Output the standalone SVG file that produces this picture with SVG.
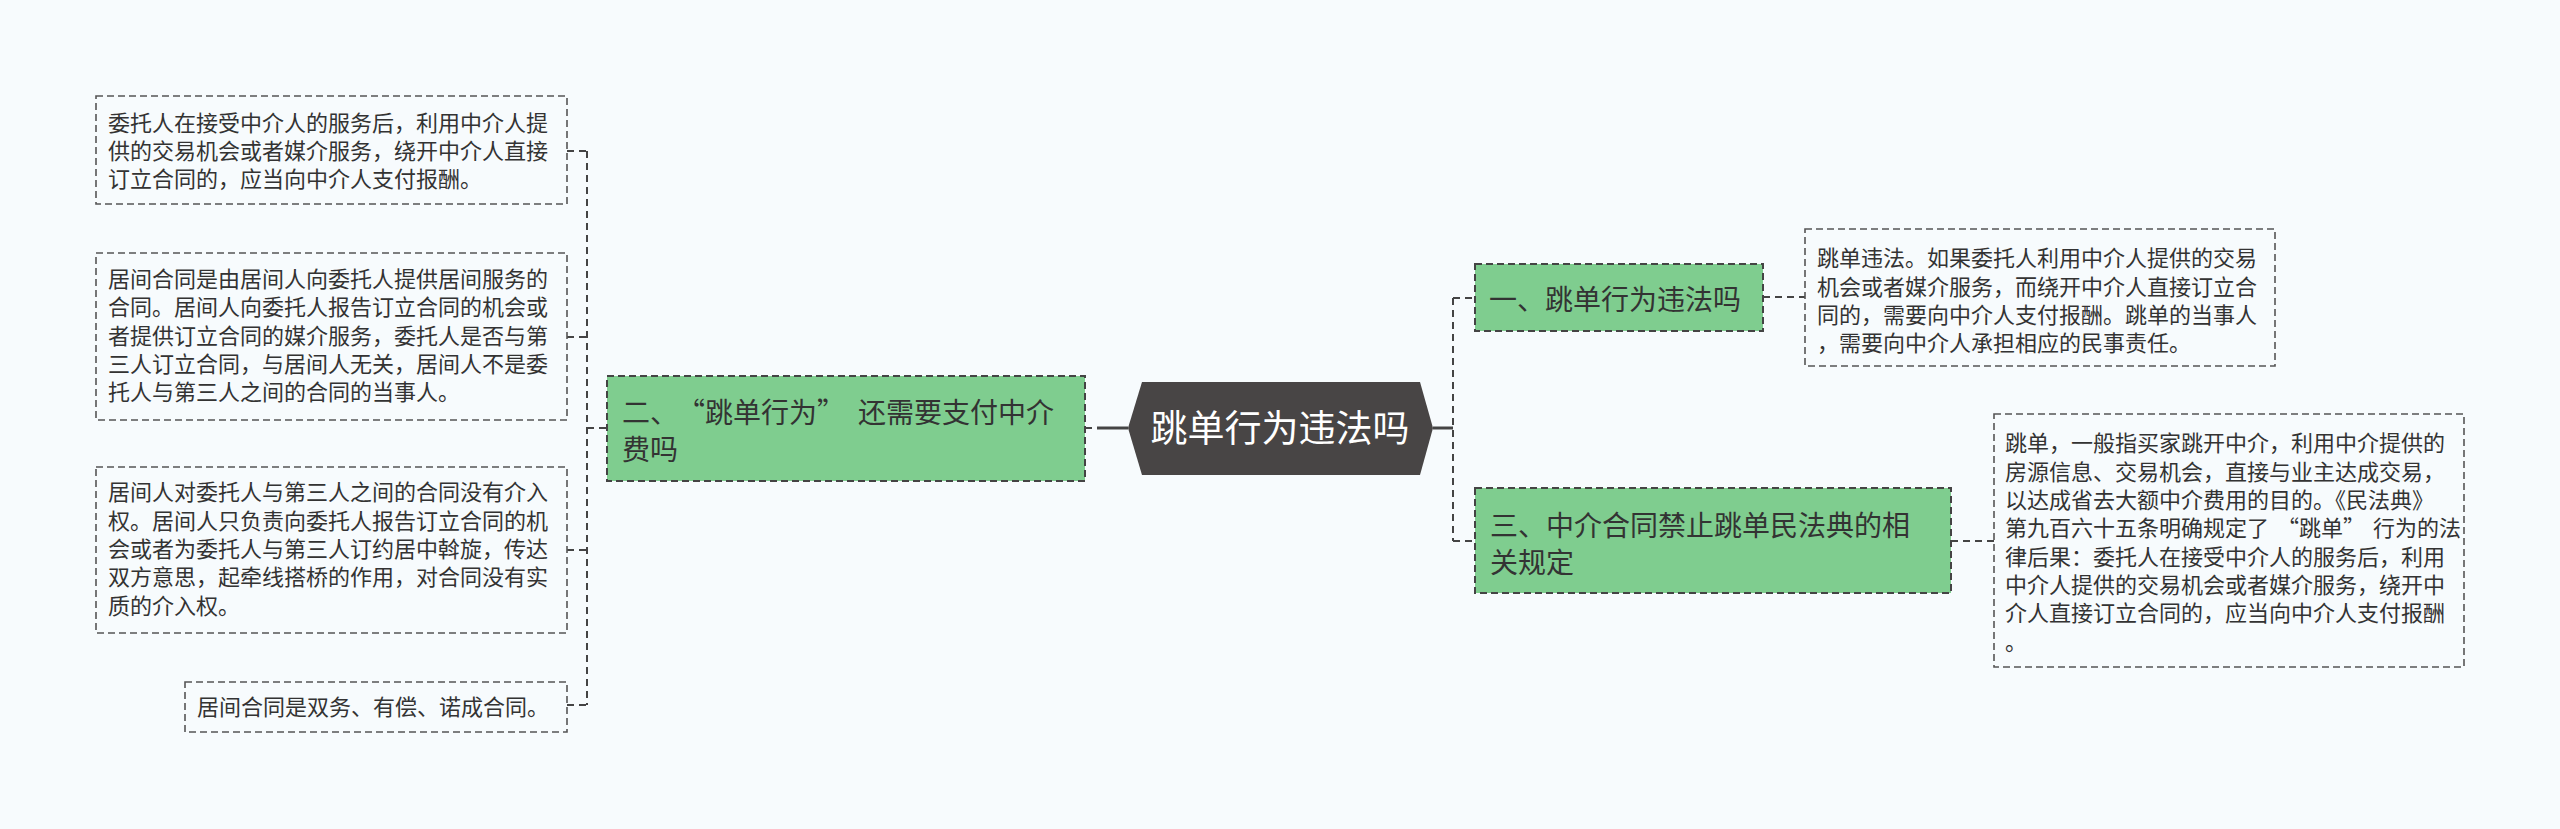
<svg xmlns="http://www.w3.org/2000/svg" width="2560" height="829" viewBox="0 0 2560 829">
<style>
.t{font-family:"Noto Sans CJK SC","Noto Sans",sans-serif;fill:#333}
.leaf{font-size:22px}
.br{font-size:28px}
.box{fill:none;stroke:#555;stroke-width:1.6;stroke-dasharray:7 4}
.gbox{fill:#7fcd8f;stroke:#444;stroke-width:2;stroke-dasharray:7 4}
.dl{fill:none;stroke:#444;stroke-width:2;stroke-dasharray:7 5}
.sl{fill:none;stroke:#444;stroke-width:3}
</style>
<rect width="2560" height="829" fill="#f7fbfd"/>
<g id="connectors">
<path class="dl" d="M587 151 V705 M567 151 H587 M567 337 H587 M567 550 H587 M567 705 H587 M587 428 H607"/>
<path class="dl" d="M1085 428 H1097"/>
<path class="sl" d="M1097 428 H1128"/>
<path class="sl" d="M1433 428 H1453"/>
<path class="dl" d="M1453 298 V541 M1453 298 H1475 M1453 541 H1475"/>
<path class="dl" d="M1763 297 H1805 M1951 541 H1994"/>
</g>
<g id="center">
<polygon points="1128,428 1142,382 1420,382 1433,428 1420,475 1142,475" fill="#484545"/>
<text class="t" x="1280" y="442" font-size="37" text-anchor="middle" style="fill:#fff">跳单行为违法吗</text>
</g>
<g id="node-2">
<rect class="gbox" x="607" y="376" width="478" height="105"/>
<text class="t br" x="622" y="423">二、<tspan dx="13">“跳单行为”</tspan><tspan dx="13">还需要支付中介</tspan></text>
<text class="t br" x="622" y="460">费吗</text>
</g>
<g id="leaf-2-1">
<rect class="box" x="96" y="96" width="471" height="108"/>
<text class="t leaf"><tspan x="108" y="131">委托人在接受中介人的服务后，利用中介人提</tspan><tspan x="108" y="159">供的交易机会或者媒介服务，绕开中介人直接</tspan><tspan x="108" y="187">订立合同的，应当向中介人支付报酬。</tspan></text>
</g>
<g id="leaf-2-2">
<rect class="box" x="96" y="253" width="471" height="167"/>
<text class="t leaf"><tspan x="108" y="287">居间合同是由居间人向委托人提供居间服务的</tspan><tspan x="108" y="315">合同。居间人向委托人报告订立合同的机会或</tspan><tspan x="108" y="344">者提供订立合同的媒介服务，委托人是否与第</tspan><tspan x="108" y="372">三人订立合同，与居间人无关，居间人不是委</tspan><tspan x="108" y="400">托人与第三人之间的合同的当事人。</tspan></text>
</g>
<g id="leaf-2-3">
<rect class="box" x="96" y="467" width="471" height="166"/>
<text class="t leaf"><tspan x="108" y="500">居间人对委托人与第三人之间的合同没有介入</tspan><tspan x="108" y="529">权。居间人只负责向委托人报告订立合同的机</tspan><tspan x="108" y="557">会或者为委托人与第三人订约居中斡旋，传达</tspan><tspan x="108" y="585">双方意思，起牵线搭桥的作用，对合同没有实</tspan><tspan x="108" y="614">质的介入权。</tspan></text>
</g>
<g id="leaf-2-4">
<rect class="box" x="185" y="682" width="382" height="50"/>
<text class="t leaf" x="197" y="715">居间合同是双务、有偿、诺成合同。</text>
</g>
<g id="node-1">
<rect class="gbox" x="1475" y="264" width="288" height="67"/>
<text class="t br" x="1489" y="310">一、跳单行为违法吗</text>
</g>
<g id="leaf-1-1">
<rect class="box" x="1805" y="229" width="470" height="137"/>
<text class="t leaf"><tspan x="1817" y="266">跳单违法。如果委托人利用中介人提供的交易</tspan><tspan x="1817" y="295">机会或者媒介服务，而绕开中介人直接订立合</tspan><tspan x="1817" y="323">同的，需要向中介人支付报酬。跳单的当事人</tspan><tspan x="1817" y="351">，需要向中介人承担相应的民事责任。</tspan></text>
</g>
<g id="node-3">
<rect class="gbox" x="1475" y="488" width="476" height="105"/>
<text class="t br" x="1490" y="536">三、中介合同禁止跳单民法典的相</text>
<text class="t br" x="1490" y="573">关规定</text>
</g>
<g id="leaf-3-1">
<rect class="box" x="1994" y="414" width="470" height="253"/>
<text class="t leaf"><tspan x="2005" y="451">跳单，一般指买家跳开中介，利用中介提供的</tspan><tspan x="2005" y="480">房源信息、交易机会，直接与业主达成交易，</tspan><tspan x="2005" y="508">以达成省去大额中介费用的目的。《民法典》</tspan><tspan x="2005" y="536">第九百六十五条明确规定了<tspan dx="8">“跳单”</tspan><tspan dx="8">行为的法</tspan></tspan><tspan x="2005" y="565">律后果：委托人在接受中介人的服务后，利用</tspan><tspan x="2005" y="593">中介人提供的交易机会或者媒介服务，绕开中</tspan><tspan x="2005" y="621">介人直接订立合同的，应当向中介人支付报酬</tspan><tspan x="2005" y="650">。</tspan></text>
</g>
</svg>
